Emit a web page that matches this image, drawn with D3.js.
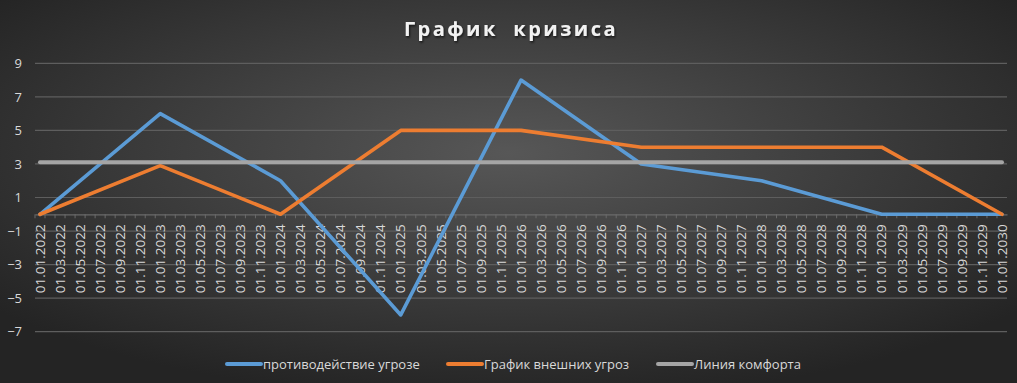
<!DOCTYPE html>
<html><head><meta charset="utf-8">
<script src="https://cdn.jsdelivr.net/npm/d3@7"></script>
<style>html,body{margin:0;padding:0;background:#262626;overflow:hidden}</style>
</head><body>
<svg id="chart" width="1017" height="383"></svg>
<script>
// ---- data ----
const title = "График  кризиса";
const pointDates = ["01.01.2022","01.01.2023","01.01.2024","01.01.2025","01.01.2026","01.01.2027","01.01.2028","01.01.2029","01.01.2030"];
const seriesNames = ["противодействие угрозе","График внешних угроз","Линия комфорта"];
const counterThreat = [0, 6, 2, -6, 8, 3, 2, 0, 0];
const externalThreats = [0, 2.9, 0, 5, 5, 4, 4, 4, 0];
const comfortLine = [3.1, 3.1, 3.1, 3.1, 3.1, 3.1, 3.1, 3.1, 3.1];
const yTicks = [-7, -5, -3, -1, 1, 3, 5, 7, 9];
const colors = ["#5B9BD5", "#ED7D31", "#A5A5A5"];

// ---- layout ----
const W = 1017, H = 383;
const plot = {left: 35, right: 1007, top: 63.3, bottom: 331.7};
const svg = d3.select("#chart");
const defs = svg.append("defs");
const rg = defs.append("radialGradient").attr("id","bg").attr("cx","50%").attr("cy","40%").attr("r","65%");
rg.append("stop").attr("offset","0%").attr("stop-color","#575757");
rg.append("stop").attr("offset","100%").attr("stop-color","#242424");
const f = defs.append("filter").attr("id","sh").attr("x","-10%").attr("y","-30%").attr("width","120%").attr("height","160%");
f.append("feDropShadow").attr("dx",1).attr("dy",1.5).attr("stdDeviation",1.2).attr("flood-color","#000").attr("flood-opacity",0.7);

svg.append("rect").attr("width",W).attr("height",H).attr("fill","url(#bg)");

const parse = d3.timeParse("%d.%m.%Y");
const fmt = d3.timeFormat("%d.%m.%Y");
const start = parse(pointDates[0]), end = parse(pointDates[pointDates.length-1]);
const months = d3.timeMonth.range(start, d3.timeMonth.offset(end, 1)); // 97 months
const monthLabels = months.map(fmt);

const x = d3.scaleBand().domain(monthLabels).range([plot.left, plot.right]);
const xc = d => x(d) + x.bandwidth()/2;
const y = d3.scaleLinear().domain([-7, 9]).range([plot.bottom, plot.top]);

// gridlines
svg.append("g").selectAll("line").data(yTicks).join("line")
  .attr("x1", plot.left).attr("x2", plot.right)
  .attr("y1", d => y(d)).attr("y2", d => y(d))
  .attr("stroke", "#5e5e5e").attr("stroke-width", 1.2);

// y axis labels
const yAxis = d3.axisLeft(y).tickValues(yTicks).tickSize(0).tickPadding(0);
const gy = svg.append("g").attr("transform", `translate(${plot.left-13},0)`).call(yAxis);
gy.select(".domain").remove();
gy.selectAll("text").attr("fill","#d9d9d9").style("font-family","'Open Sans', 'Liberation Sans', sans-serif").style("font-size","13px");

// x axis at y=0
const labelSet = monthLabels.filter((d,i) => i % 2 === 0);
const xAxis = d3.axisBottom(x).tickValues(monthLabels).tickSize(4).tickSizeOuter(0).tickFormat(d => labelSet.includes(d) ? d : "");
const gx = svg.append("g").attr("transform", `translate(0,${y(0)})`).call(xAxis);
gx.select(".domain").attr("stroke","#6a6a6a").attr("stroke-width",1.2);
gx.selectAll(".tick line").attr("stroke","#6a6a6a").attr("transform", `translate(${-x.bandwidth()/2},0)`);
gx.selectAll(".tick text")
  .attr("fill","#d9d9d9")
  .style("font-family","'Open Sans', 'Liberation Sans', sans-serif").style("font-size","13.5px")
  .attr("text-anchor","end").attr("dy","0.35em")
  .attr("transform","translate(0,10) rotate(-90)")
  .attr("x",0).attr("y",0);

// lines
const seriesList = [counterThreat, externalThreats, comfortLine];
const line = d3.line().x((d,i) => xc(pointDates[i])).y(d => y(d));
seriesList.forEach((s, k) => {
  svg.append("path").datum(s).attr("d", line)
    .attr("fill","none").attr("stroke", colors[k])
    .attr("stroke-width", k === 2 ? 4 : 3.6)
    .attr("stroke-linejoin","round").attr("stroke-linecap","round");
});

// title
svg.append("text").attr("x", 511).attr("y", 36).attr("text-anchor","middle")
  .attr("fill","#f2f2f2").attr("filter","url(#sh)")
  .style("font-family","'Open Sans', 'DejaVu Sans', sans-serif").style("font-size","20px").style("font-weight","bold")
  .style("letter-spacing","2.5px").style("white-space","pre")
  .text(title);

// legend
const legendX = [227, 448, 658];
const lg = svg.append("g");
seriesNames.forEach((n, k) => {
  lg.append("line").attr("x1", legendX[k]).attr("x2", legendX[k]+34).attr("y1", 364).attr("y2", 364)
    .attr("stroke", colors[k]).attr("stroke-width", 4).attr("stroke-linecap","round");
  lg.append("text").attr("x", legendX[k]+36).attr("y", 364).attr("dy","0.35em")
    .attr("fill","#d9d9d9").style("font-family","'Open Sans', 'Liberation Sans', sans-serif").style("font-size","13px")
    .text(n);
});
</script>
</body></html>
